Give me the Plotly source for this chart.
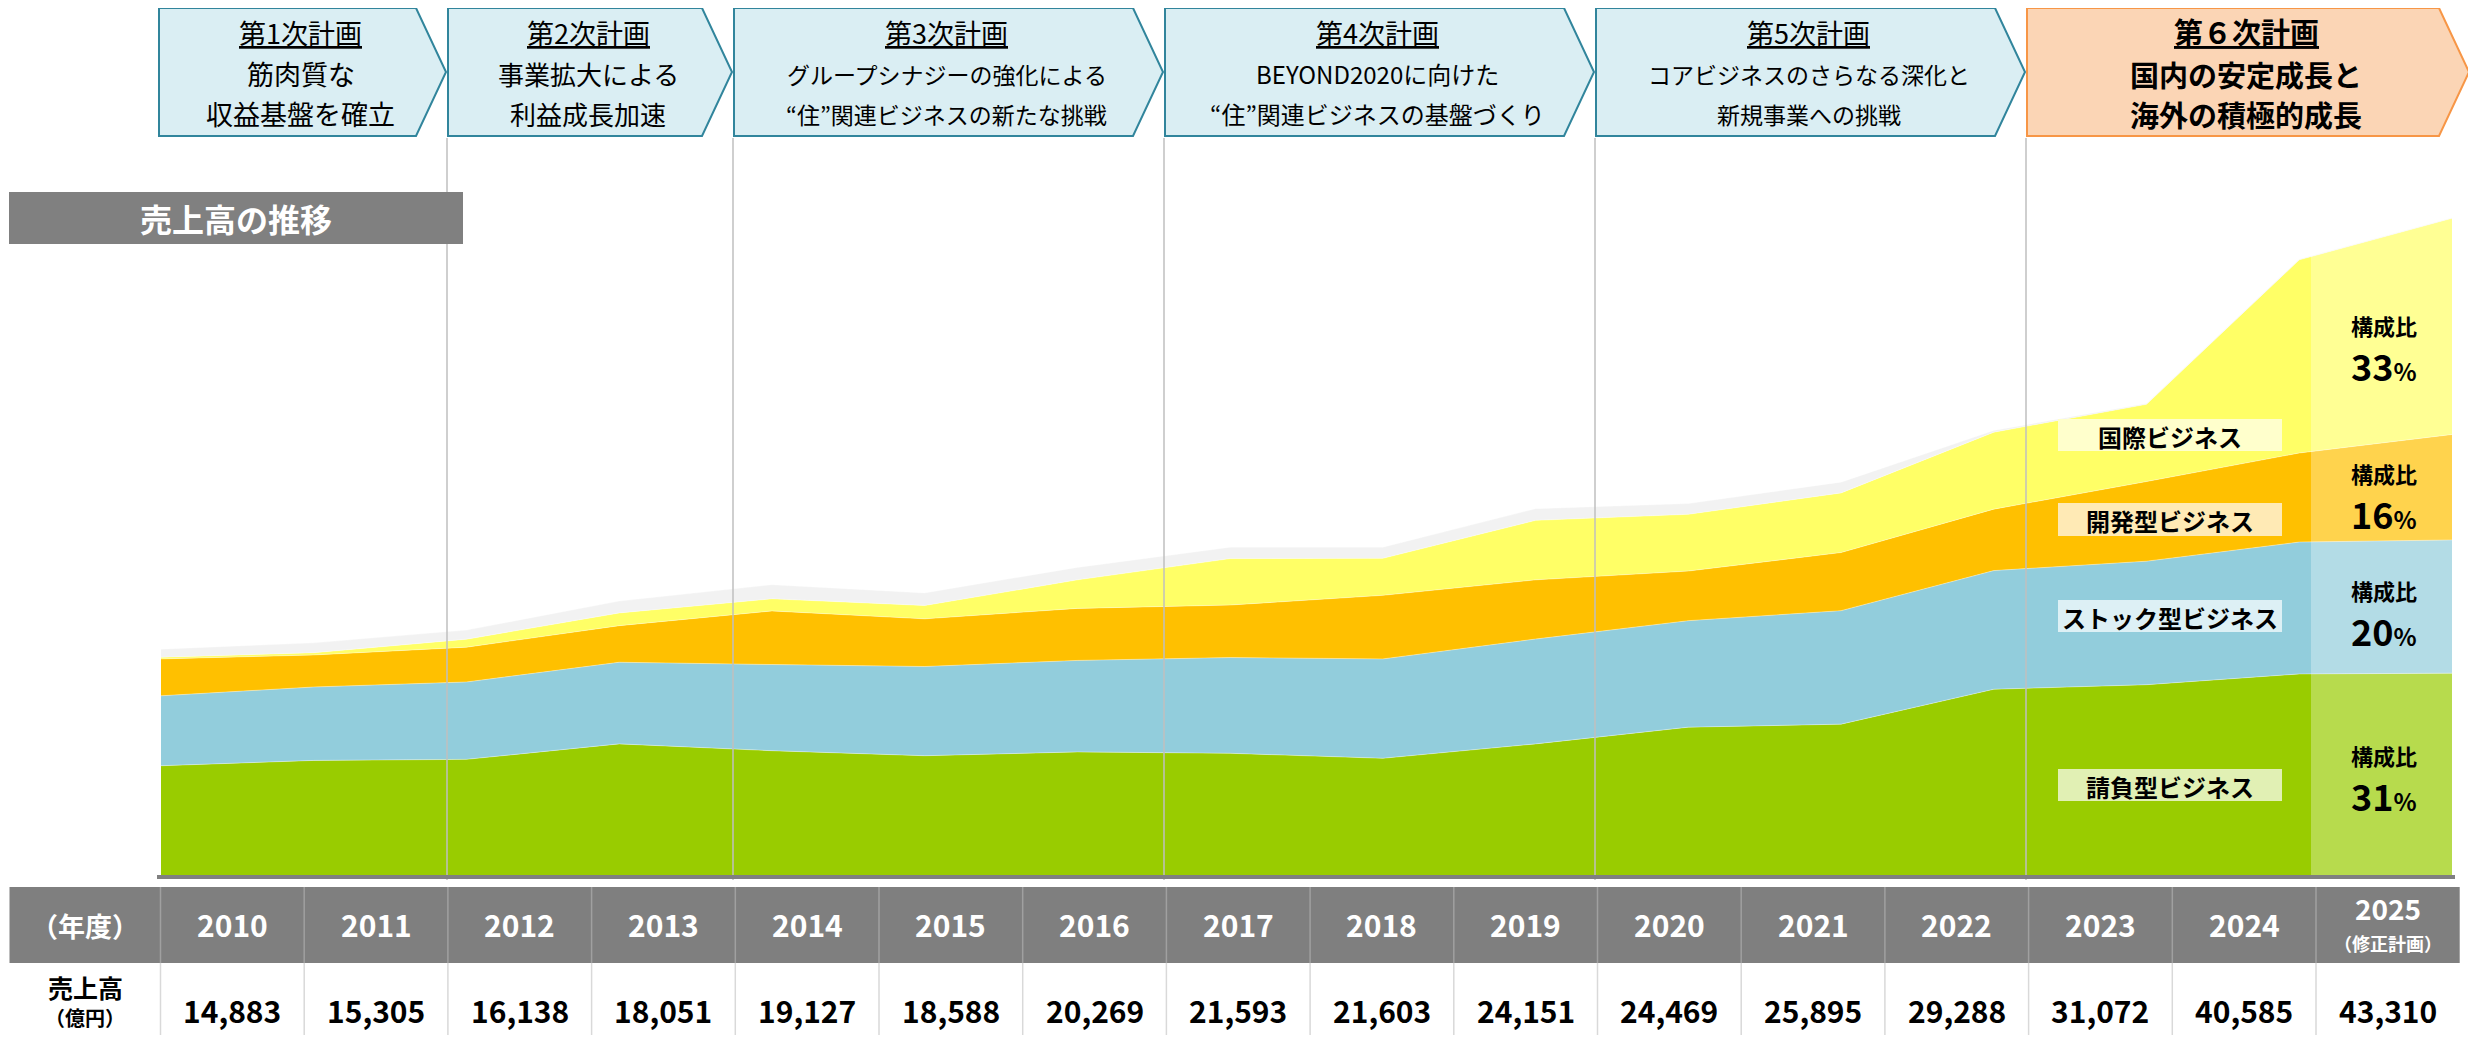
import plotly.graph_objects as go

# ---- data (億円) ----
years = [2010, 2011, 2012, 2013, 2014, 2015, 2016, 2017,
         2018, 2019, 2020, 2021, 2022, 2023, 2024, 2025]
sales_total = [14883, 15305, 16138, 18051, 19127, 18588, 20269, 21593,
               21603, 24151, 24469, 25895, 29288, 31072, 40585, 43310]

# segment breakdown
ukeoi = [7200, 7550, 7620, 8640, 8190, 7860, 8110, 8020,
         7690, 8640, 9740, 9940, 12240, 12540, 13250, 13300]       # 請負型
stock = [4610, 4840, 5100, 5380, 5680, 5880, 6030, 6310,
         6550, 6910, 7020, 7480, 7820, 8140, 8690, 8780]           # ストック型
kaihatsu = [2430, 2110, 2290, 2410, 3530, 3140, 3430, 3460,
            4190, 3900, 3270, 3830, 4050, 5250, 5870, 6950]        # 開発型
kokusai = [110, 150, 530, 840, 800, 880, 1880, 3060,
           2440, 3920, 3740, 3930, 5070, 5090, 12730, 14250]      # 国際
other = [530, 650, 600, 780, 930, 830, 820, 750,
         730, 770, 710, 710, 110, 50, 45, 30]                      # その他

plans = [
    ("第1次計画", "筋肉質な", "収益基盤を確立"),
    ("第2次計画", "事業拡大による", "利益成長加速"),
    ("第3次計画", "グループシナジーの強化による", "“住”関連ビジネスの新たな挑戦"),
    ("第4次計画", "BEYOND2020に向けた", "“住”関連ビジネスの基盤づくり"),
    ("第5次計画", "コアビジネスのさらなる深化と", "新規事業への挑戦"),
    ("第６次計画", "国内の安定成長と", "海外の積極的成長"),
]
plan_font = [27, 26, 23, 24, 23, 29]

# page is 2476x1043, the figure div sits 8px in from the top-left (body margin)
OFF = 8
W, H = 2476 - 2 * OFF, 1043 - 2 * OFF
FONT = "Noto Sans CJK JP"


def px(x):
    return (x - OFF) / W


def py(y):
    return 1 - (y - OFF) / H


# axis mapping (page px): 2010 -> 161, 2025 -> 2452, baseline at 875
step = (2452 - 161) / 15
x0 = 2010 - (161 - OFF) / step
x1 = x0 + W / step
k = 65.9
y0 = -(H - (875 - OFF)) * k
y1 = y0 + H * k

fig = go.Figure()

series = [
    ("請負型", ukeoi, "#99CC00"),
    ("ストック型", stock, "#92CDDC"),
    ("開発型", kaihatsu, "#FFC000"),
    ("国際", kokusai, "#FFFF66"),
    ("その他", other, "#F2F2F2"),
]
for name, vals, col in series:
    fig.add_trace(go.Scatter(
        x=years, y=vals, name=name, stackgroup="one", mode="lines",
        line=dict(width=0.8, color="rgba(255,255,255,0.45)"),
        fillcolor=col, hoverinfo="skip", showlegend=False,
    ))

shapes = []
ann = []


def text(x, y, t, size, color="black", bold=False):
    if bold:
        t = "<b>" + t + "</b>"
    ann.append(dict(x=px(x), y=py(y), xref="paper", yref="paper", text=t,
                    showarrow=False, xanchor="center", yanchor="middle",
                    font=dict(family=FONT, size=size, color=color)))


def rect(xa, ya, xb, yb, fill, opacity=1, layer="above"):
    shapes.append(dict(type="rect", xref="paper", yref="paper",
                       x0=px(xa), x1=px(xb), y0=py(ya), y1=py(yb),
                       fillcolor=fill, opacity=opacity, layer=layer,
                       line=dict(width=0)))


def hline(xa, xb, y, color, width):
    shapes.append(dict(type="line", xref="paper", yref="paper",
                       x0=px(xa), x1=px(xb), y0=py(y), y1=py(y),
                       line=dict(color=color, width=width), layer="above"))


def vline(x, ya, yb, color, width):
    shapes.append(dict(type="line", xref="paper", yref="paper",
                       x0=px(x), x1=px(x), y0=py(ya), y1=py(yb),
                       line=dict(color=color, width=width), layer="above"))


# 2025 plan column lightened
rect(2311, 120, 2452, 875, "white", opacity=0.3)

# plan separators
edges = [158, 447, 733, 1164, 1595, 2026, 2470]
for e in edges[1:-1]:
    vline(e, 138, 880, "#BFBFBF", 1.5)

# baseline
hline(157, 2455, 877, "#808080", 4)

# plan chevrons
top, bot = 8, 136
for i, (h1, h2, h3) in enumerate(plans):
    L, tip = edges[i] + 1, edges[i + 1] - 1
    R = tip - 30
    mid = (top + bot) / 2
    last = i == len(plans) - 1
    fill = "#FBD5B5" if last else "#DAEEF3"
    lc = "#F79646" if last else "#31859C"
    path = (f"M {px(L)},{py(top)} L {px(R)},{py(top)} L {px(tip)},{py(mid)} "
            f"L {px(R)},{py(bot)} L {px(L)},{py(bot)} Z")
    shapes.append(dict(type="path", xref="paper", yref="paper", path=path,
                       fillcolor=fill, line=dict(color=lc, width=2), layer="above"))
    cx = (L + tip) / 2 - 2
    fs = plan_font[i]
    if last:
        text(cx, 31, "<u>" + h1 + "</u>", 29, bold=True)
        text(cx, 74, h2, fs, bold=True)
        text(cx, 114, h3, fs, bold=True)
    else:
        text(cx, 32, "<u>" + h1 + "</u>", 27)
        text(cx, 74, h2, fs)
        text(cx, 114, h3, fs)

# title
rect(9, 192, 463, 244, "#808080")
text(236, 218, "売上高の推移", 32, color="white", bold=True)

# segment label boxes
labels = [
    ("国際ビジネス", 419, 451, "#FFFFCC"),
    ("開発型ビジネス", 503, 536, "#FFEAB5"),
    ("ストック型ビジネス", 600, 632, "#DDF0F5"),
    ("請負型ビジネス", 769, 801, "#E1F0B4"),
]
for t, ya, yb, col in labels:
    rect(2058, ya, 2282, yb, col)
    text(2170, (ya + yb) / 2 + 1, t, 24, bold=True)

# composition ratios for the 2025 plan
tot25 = sales_total[-1]
ratio_pos = [(kokusai, 325), (kaihatsu, 473), (stock, 590), (ukeoi, 755)]
for vals, yy in ratio_pos:
    pct = round(vals[-1] / tot25 * 100)
    text(2384, yy, "構成比", 22, bold=True)
    text(2384, yy + 40, f"<b>{pct}</b><b><span style='font-size:24px'>%</span></b>", 36)

# table
cw = (2459.7 - 160.5) / 16
col_edges = [9.5] + [160.5 + j * cw for j in range(17)]
rect(9.5, 887, 2459.7, 963, "#7F7F7F")
for e in col_edges[1:-1]:
    vline(e, 887, 963, "#A0A0A0", 1.5)
    vline(e, 963, 1035, "#D9D9D9", 1.5)

text(85, 925, "（年度）", 27, color="white", bold=True)
text(85, 987, "売上高", 25, bold=True)
text(85, 1017, "（億円）", 20, bold=True)
for j, (yr, v) in enumerate(zip(years, sales_total)):
    cx = (col_edges[j + 1] + col_edges[j + 2]) / 2
    if yr == years[-1]:
        text(cx, 908, str(yr), 28, color="white", bold=True)
        text(cx, 943, "（修正計画）", 18, color="white", bold=True)
    else:
        text(cx, 924, str(yr), 30, color="white", bold=True)
    text(cx, 1010, f"{v:,}", 30, bold=True)

fig.update_layout(
    width=W, height=H,
    margin=dict(l=0, r=0, t=0, b=0),
    paper_bgcolor="white", plot_bgcolor="rgba(0,0,0,0)",
    xaxis=dict(range=[x0, x1], visible=False, fixedrange=True),
    yaxis=dict(range=[y0, y1], visible=False, fixedrange=True),
    shapes=shapes, annotations=ann,
    font=dict(family=FONT),
)

fig.write_html("out.html")
